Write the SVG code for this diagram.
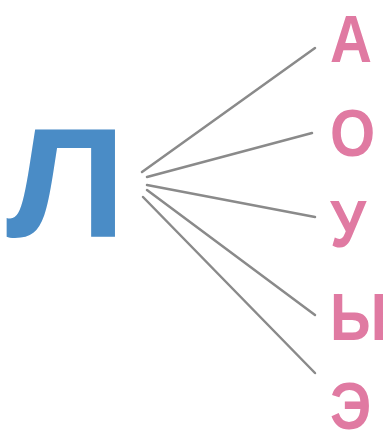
<svg xmlns="http://www.w3.org/2000/svg" width="392" height="432" viewBox="0 0 392 432">
<style>
.main{font-family:"Liberation Sans",Arial,sans-serif;font-weight:bold;font-size:156px;fill:#4a8cc6}
.v{font-family:"Liberation Sans",Arial,sans-serif;font-weight:bold;font-size:66px;fill:#e07aa2}
.c{stroke:#8a8a8a;stroke-width:2.5;stroke-linecap:round;fill:none}
</style>
<rect width="392" height="432" fill="#ffffff"/>
<g id="node-L"><text class="main" transform="translate(6,237) scale(1.1,1)">Л</text></g>
<g id="connectors">
<line class="c" x1="142" y1="172" x2="315" y2="48"/>
<line class="c" x1="147" y1="177" x2="312" y2="133"/>
<line class="c" x1="147" y1="185" x2="315" y2="217"/>
<line class="c" x1="147" y1="190" x2="315" y2="315"/>
<line class="c" x1="143" y1="197" x2="315" y2="373"/>
</g>
<g id="node-A"><text class="v" transform="translate(330,62) scale(0.88,1)">А</text></g>
<g id="node-O"><text class="v" transform="translate(330,156) scale(0.88,1)">О</text></g>
<g id="node-U"><text class="v" transform="translate(330,247) scale(0.88,1)">У</text></g>
<g id="node-Y"><text class="v" transform="translate(330,340) scale(0.88,1)">Ы</text></g>
<g id="node-E"><text class="v" transform="translate(330,429) scale(0.88,1)">Э</text></g>
</svg>
